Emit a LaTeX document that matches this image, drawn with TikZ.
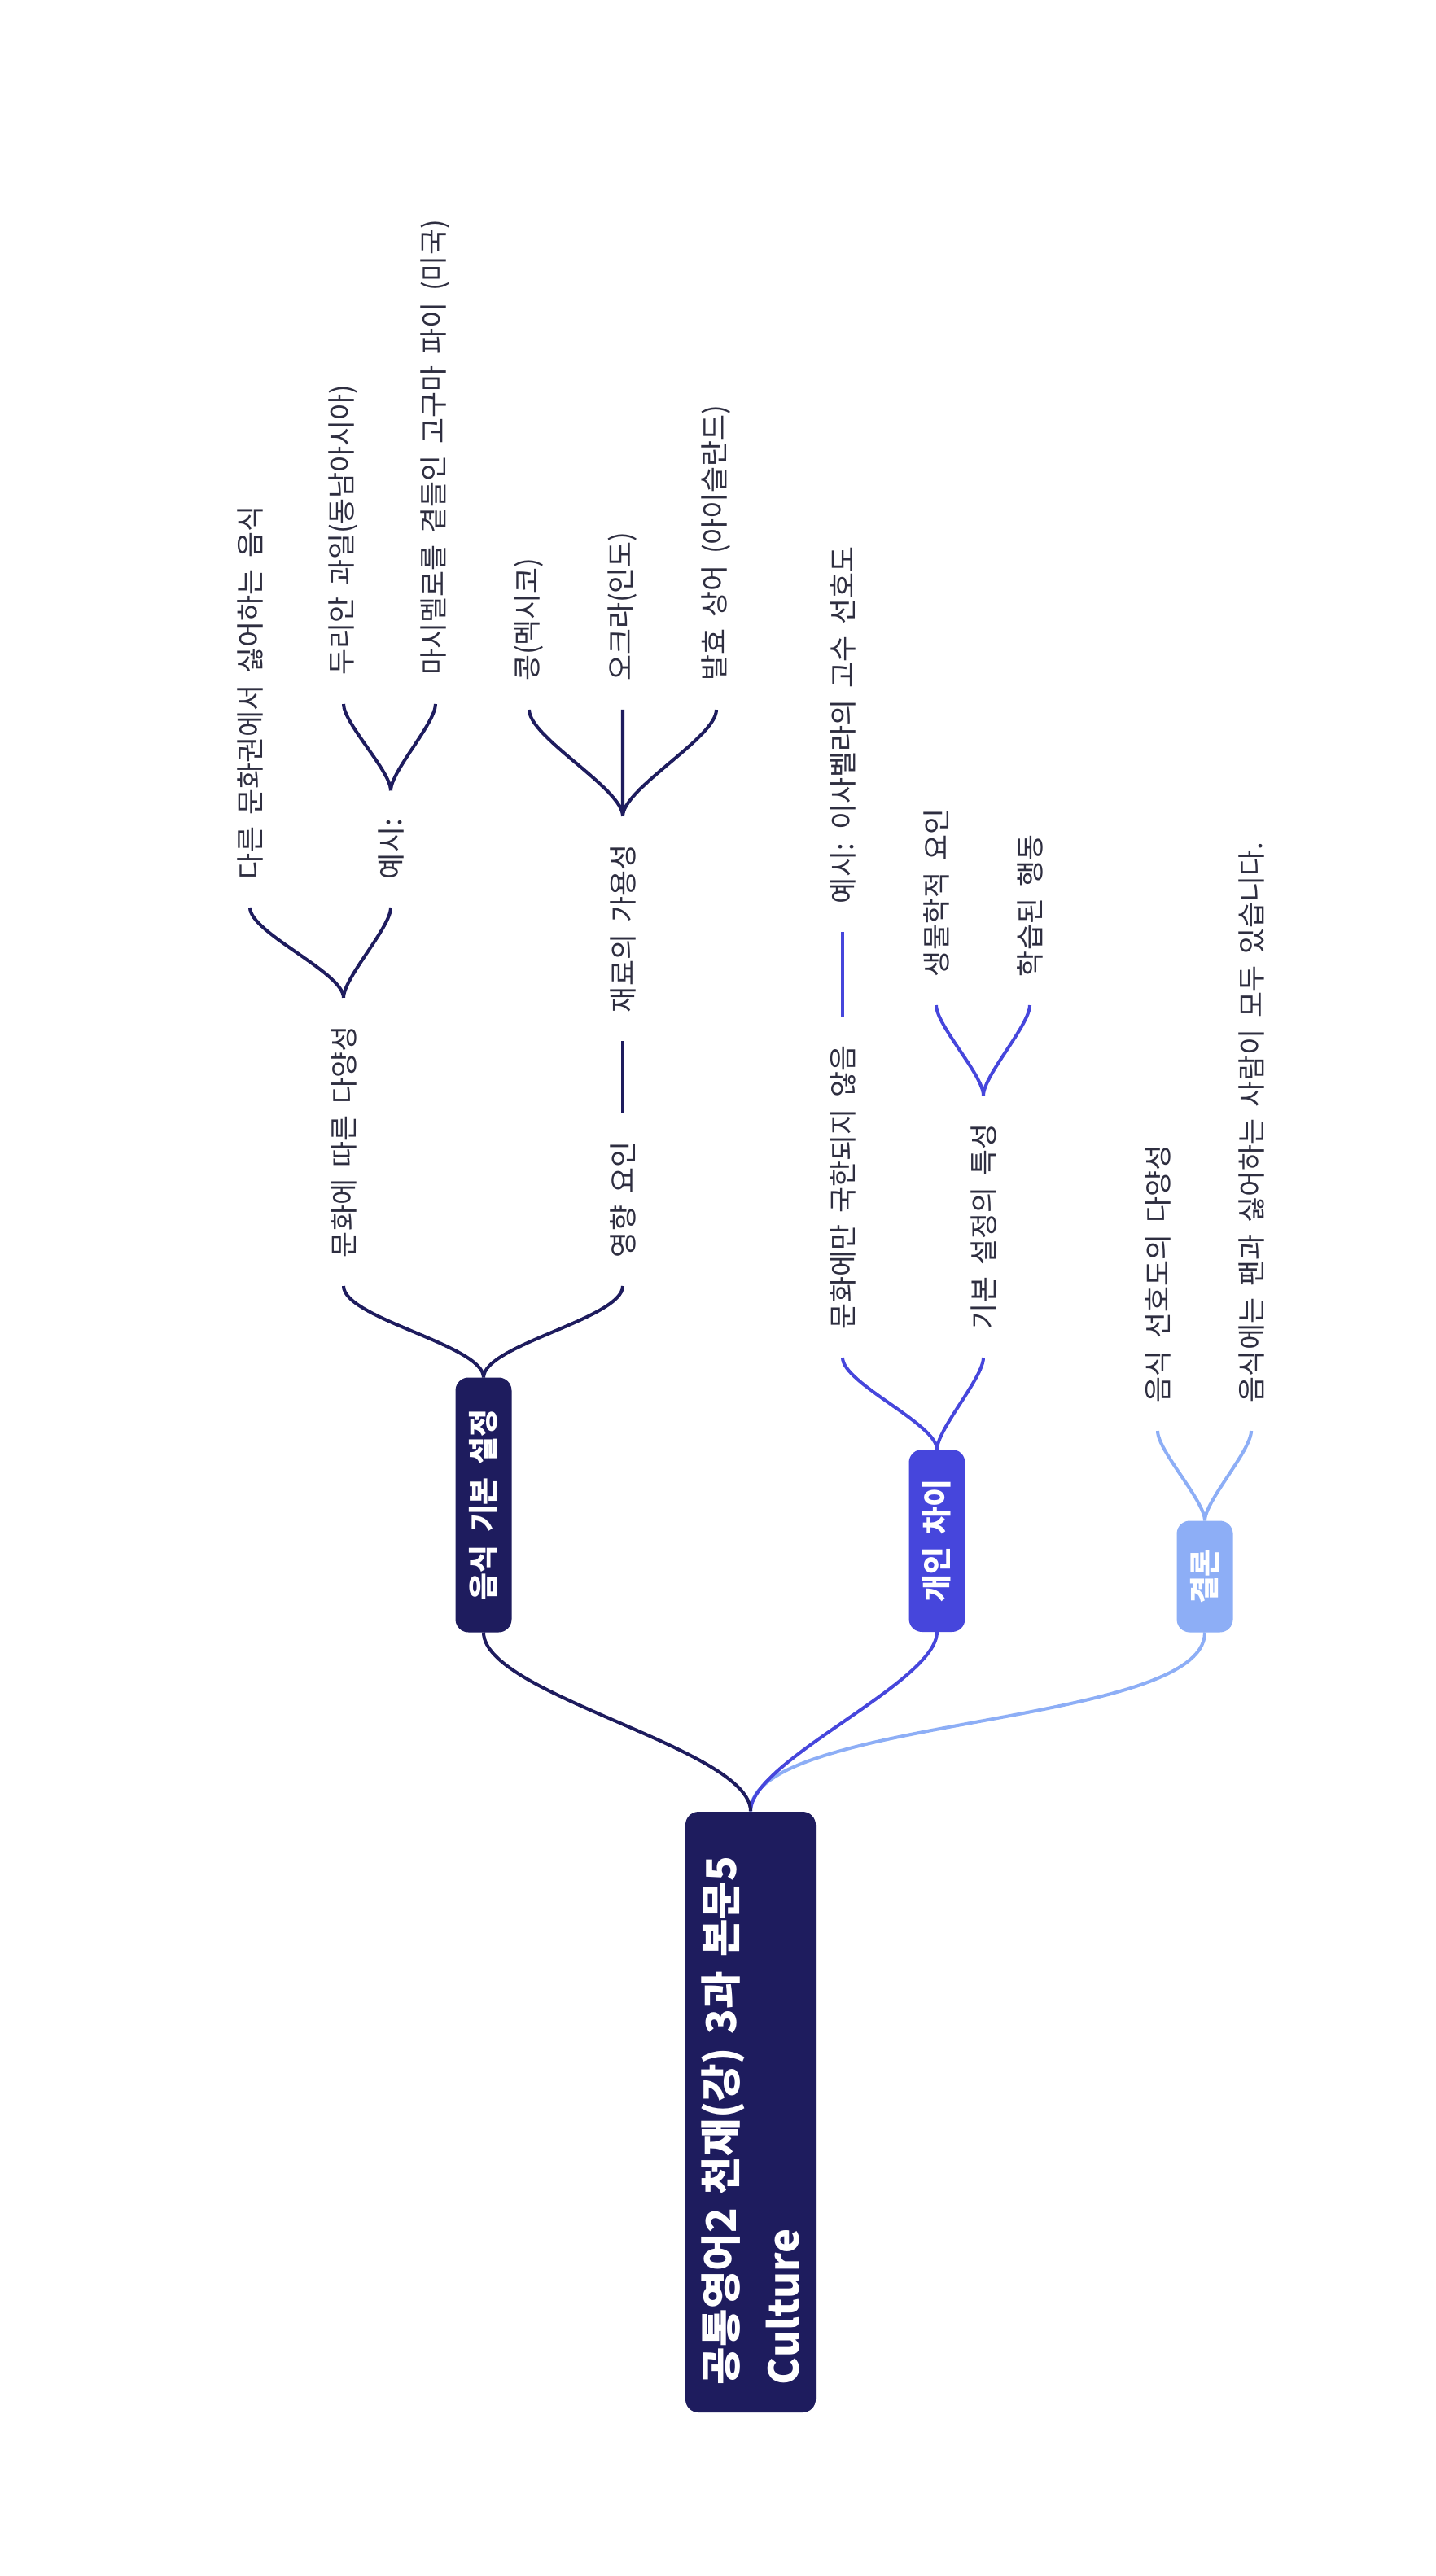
\documentclass[tikz,border=0pt]{standalone}
\usepackage{fontspec}
\setmainfont{Noto Sans CJK KR}[WordSpace=1.8]

\definecolor{navy}{HTML}{1E1C5E}
\definecolor{royal}{HTML}{4646DC}
\definecolor{sky}{HTML}{8DAEF6}
\definecolor{ink}{HTML}{2E2E40}

\tikzset{
  topic/.style={rotate=90, rounded corners=0.16cm, text=white, font=\bfseries\fontsize{10.5}{12}\selectfont,
    minimum height=0.69cm, inner xsep=0.3cm, outer sep=0pt},
  leaf/.style={rotate=90, anchor=west, text=ink, font=\fontsize{9.9}{11.5}\selectfont,
    inner xsep=0.35cm, inner ysep=0pt, outer sep=0pt},
  link/.style={line width=1.15pt, out=90, in=-90, looseness=0.5},
}

\begin{document}
\begin{tikzpicture}
  \fill[white] (0,0) rectangle (17.63,-31.65);
  \useasboundingbox (0,0) rectangle (17.63,-31.65);

  % root
  \node[rotate=90, fill=navy, rounded corners=0.16cm, text=white, font=\bfseries\fontsize{14.4}{21.9}\selectfont,
    text width=6.7cm, align=left, inner xsep=0.34cm, minimum height=1.6cm] (r) at (9.22,-25.95)
    {공통영어2 천재(강) 3과 본문5\\Culture};

  % main topics
  \node[topic, fill=navy, minimum width=3.13cm] (b1) at (5.94,-18.49) {음식 기본 설정};
  \node[topic, fill=royal, minimum width=2.24cm] (b2) at (11.51,-18.93) {개인 차이};
  \node[topic, fill=sky, minimum width=1.37cm] (b3) at (14.80,-19.37) {결론};

  % branch 1
  \node[leaf] (a1) at (4.22,-15.80) {문화에 따른 다양성};
  \node[leaf] (a11) at (3.07,-11.15) {다른 문화권에서 싫어하는 음식};
  \node[leaf] (a12) at (4.80,-11.15) {예시:};
  \node[leaf] (a121) at (4.22,-8.65) {두리안 과일(동남아시아)};
  \node[leaf] (a122) at (5.35,-8.65) {마시멜로를 곁들인 고구마 파이 (미국)};
  \node[leaf] (a2) at (7.65,-15.80) {영향 요인};
  \node[leaf] (a21) at (7.65,-12.79) {재료의 가용성};
  \node[leaf] (a211) at (6.50,-8.72) {콩(멕시코)};
  \node[leaf] (a212) at (7.65,-8.72) {오크라(인도)};
  \node[leaf] (a213) at (8.80,-8.72) {발효 상어 (아이슬란드)};

  % branch 2
  \node[leaf] (c1) at (10.35,-16.68) {문화에만 국한되지 않음};
  \node[leaf] (c11) at (10.35,-11.45) {예시: 이사벨라의 고수 선호도};
  \node[leaf] (c2) at (12.08,-16.68) {기본 설정의 특성};
  \node[leaf] (c21) at (11.50,-12.35) {생물학적 요인};
  \node[leaf] (c22) at (12.65,-12.35) {학습된 행동};

  % branch 3
  \node[leaf] (d1) at (14.22,-17.58) {음식 선호도의 다양성};
  \node[leaf] (d2) at (15.37,-17.58) {음식에는 팬과 싫어하는 사람이 모두 있습니다.};

  \draw[link, sky] (r.east) to (b3.west);
  \draw[link, royal] (r.east) to (b2.west);
  \draw[link, navy] (r.east) to (b1.west);

  \draw[link, navy] (b1.east) to (a1.west) (b1.east) to (a2.west);
  \draw[link, navy] (a1.east) to (a11.west) (a1.east) to (a12.west);
  \draw[link, navy] (a12.east) to (a121.west) (a12.east) to (a122.west);
  \draw[link, navy] (a2.east) -- (a21.west);
  \draw[link, navy] (a21.east) to (a211.west) (a21.east) to (a212.west) (a21.east) to (a213.west);

  \draw[link, royal] (b2.east) to (c1.west) (b2.east) to (c2.west);
  \draw[link, royal] (c1.east) -- (c11.west);
  \draw[link, royal] (c2.east) to (c21.west) (c2.east) to (c22.west);

  \draw[link, sky] (b3.east) to (d1.west) (b3.east) to (d2.west);
\end{tikzpicture}
\end{document}
